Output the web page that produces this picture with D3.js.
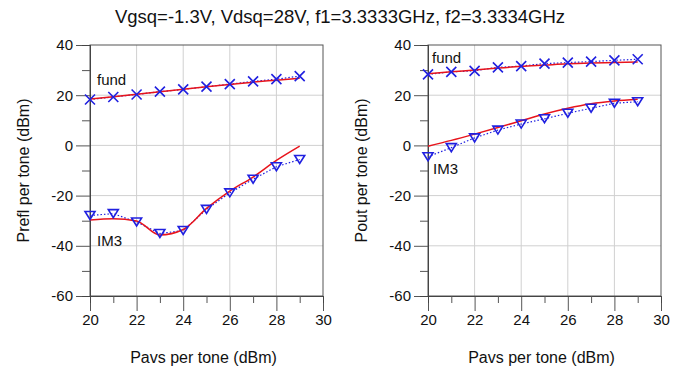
<!DOCTYPE html>
<html lang="en">
<head>
    <meta charset="UTF-8">
    <title>Two-tone sweep</title>
    <script src="https://d3js.org/d3.v7.min.js"></script>
</head>
<body>
<style>
    body {
        margin: 0;
        background: #fff;
    }
    text {
        font-family: "Liberation Sans", Arial, sans-serif;
        fill: #111;
    }
</style>
<script>
    var pavs = [20, 21, 22, 23, 24, 25, 26, 27, 28, 29];

    // Prefl per tone (left panel)
    var reflFundMeas = [18.3, 19.3, 20.3, 21.4, 22.3, 23.4, 24.4, 25.5, 26.4, 27.6];
    var reflFundSim = [18.5, 19.4, 20.4, 21.4, 22.4, 23.4, 24.3, 25.2, 26.0, 26.8];
    var reflIm3Meas = [-27.9, -27.2, -30.5, -35.1, -33.9, -25.5, -18.9, -13.5, -8.5, -5.6];
    var reflIm3Sim = [-29.7, -29.2, -30.1, -35.7, -33.5, -25.1, -18.2, -12.6, -6.0, -0.3];

    // Pout per tone (right panel)
    var outFundMeas = [28.3, 29.3, 29.7, 31.1, 31.6, 32.6, 33.0, 33.4, 33.9, 34.3];
    var outFundSim = [28.5, 29.3, 30.0, 30.8, 31.5, 32.0, 32.5, 32.8, 33.0, 33.2];
    var outIm3Meas = [-4.5, -0.9, 3.0, 6.1, 8.5, 10.6, 12.8, 14.8, 16.8, 17.4];
    var outIm3Sim = [-0.3, 2.0, 4.5, 7.1, 9.8, 12.5, 14.8, 16.6, 17.7, 18.4];

    var xTicks = [20, 22, 24, 26, 28, 30];
    var xMinor = [21, 23, 25, 27, 29];
    var yTicks = [-60, -40, -20, 0, 20, 40];
    var yMinor = [-50, -30, -10, 10, 30];

    var W = 673, H = 373;
    var plotTop = 45, plotBottom = 296, plotW = 233;
    var RED = "#e8141c", BLUE = "#2020e0";

    var svg = d3.select("body").append("svg")
        .attr("width", W)
        .attr("height", H);

    svg.append("text")
        .attr("x", 340)
        .attr("y", 23)
        .attr("text-anchor", "middle")
        .style("font-size", "18.5px")
        .text("Vgsq=-1.3V, Vdsq=28V, f1=3.3333GHz, f2=3.3334GHz");

    // plain hyphen minus like the original
    var fmt = function (d) { return String(d); };

    function drawPanel(left, yLabel, series, labels) {
        var x = d3.scaleLinear().domain([20, 30]).range([left, left + plotW]);
        var y = d3.scaleLinear().domain([-60, 40]).range([plotBottom, plotTop]);
        var g = svg.append("g");

        // grid
        g.selectAll(".vgrid").data(xTicks.slice(1, -1)).enter().append("line")
            .attr("x1", function (d) { return x(d); })
            .attr("x2", function (d) { return x(d); })
            .attr("y1", plotTop).attr("y2", plotBottom)
            .attr("stroke", "#d0d0d0");
        g.selectAll(".hgrid").data(yTicks.slice(1, -1)).enter().append("line")
            .attr("x1", left).attr("x2", left + plotW)
            .attr("y1", function (d) { return y(d); })
            .attr("y2", function (d) { return y(d); })
            .attr("stroke", "#d0d0d0");

        // frame
        g.append("rect")
            .attr("x", left).attr("y", plotTop)
            .attr("width", plotW).attr("height", plotBottom - plotTop)
            .attr("fill", "none")
            .attr("stroke", "#555");

        // axes
        var xAxis = d3.axisBottom(x).tickValues(xTicks).tickFormat(fmt).tickSize(15).tickPadding(3);
        var xAxisMinor = d3.axisBottom(x).tickValues(xMinor).tickSize(7).tickFormat("");
        var yAxis = d3.axisLeft(y).tickValues(yTicks).tickFormat(fmt).tickSize(14).tickPadding(3);
        var yAxisMinor = d3.axisLeft(y).tickValues(yMinor).tickSize(8).tickFormat("");

        [[xAxis, "translate(0," + plotBottom + ")"], [xAxisMinor, "translate(0," + plotBottom + ")"],
         [yAxis, "translate(" + left + ",0)"], [yAxisMinor, "translate(" + left + ",0)"]]
            .forEach(function (a) {
                var ax = g.append("g").attr("transform", a[1]).call(a[0]);
                ax.select(".domain").attr("stroke", "#444");
                ax.selectAll(".tick line").attr("stroke", "#555");
                ax.selectAll(".tick text")
                    .style("font-family", "Liberation Sans, Arial, sans-serif")
                    .style("font-size", "15px")
                    .attr("fill", "#111");
            });

        // axis titles
        g.append("text")
            .attr("transform", "translate(" + (left - 61) + "," + ((plotTop + plotBottom) / 2) + ") rotate(-90)")
            .attr("text-anchor", "middle")
            .style("font-size", "16px")
            .text(yLabel);
        g.append("text")
            .attr("x", left + plotW / 2 - 3)
            .attr("y", 363)
            .attr("text-anchor", "middle")
            .style("font-size", "16px")
            .text("Pavs per tone (dBm)");

        var line = d3.line()
            .x(function (d, i) { return x(pavs[i]); })
            .y(function (d) { return y(d); });
        var smooth = d3.line()
            .curve(d3.curveMonotoneX)
            .x(function (d, i) { return x(pavs[i]); })
            .y(function (d) { return y(d); });

        series.forEach(function (s) {
            // measured: dotted blue with markers
            g.append("path")
                .datum(s.meas)
                .attr("d", line)
                .attr("fill", "none")
                .attr("stroke", BLUE)
                .attr("stroke-width", 1.2)
                .attr("stroke-dasharray", "1.5,2");
            // simulated: red
            g.append("path")
                .datum(s.sim)
                .attr("d", smooth)
                .attr("fill", "none")
                .attr("stroke", RED)
                .attr("stroke-width", 1.5);

            var m = g.selectAll(null).data(s.meas).enter().append("path")
                .attr("transform", function (d, i) {
                    return "translate(" + x(pavs[i]) + "," + y(d) + ")";
                })
                .attr("fill", "none")
                .attr("stroke", BLUE)
                .attr("stroke-width", 1.6);
            if (s.marker == "x") {
                m.attr("d", "M-5,-5L5,5M-5,5L5,-5");
            } else {
                m.attr("d", "M-5,-4L5,-4L0,4Z");
            }
        });

        labels.forEach(function (l) {
            g.append("text")
                .attr("x", left + l.dx)
                .attr("y", l.y)
                .style("font-size", "15px")
                .text(l.text);
        });
    }

    drawPanel(90, "Prefl per tone (dBm)",
        [{meas: reflFundMeas, sim: reflFundSim, marker: "x"},
         {meas: reflIm3Meas, sim: reflIm3Sim, marker: "t"}],
        [{text: "fund", dx: 7, y: 85}, {text: "IM3", dx: 7, y: 246}]);

    drawPanel(428, "Pout per tone (dBm)",
        [{meas: outFundMeas, sim: outFundSim, marker: "x"},
         {meas: outIm3Meas, sim: outIm3Sim, marker: "t"}],
        [{text: "fund", dx: 4, y: 63}, {text: "IM3", dx: 5, y: 174}]);
</script>
</body>
</html>
